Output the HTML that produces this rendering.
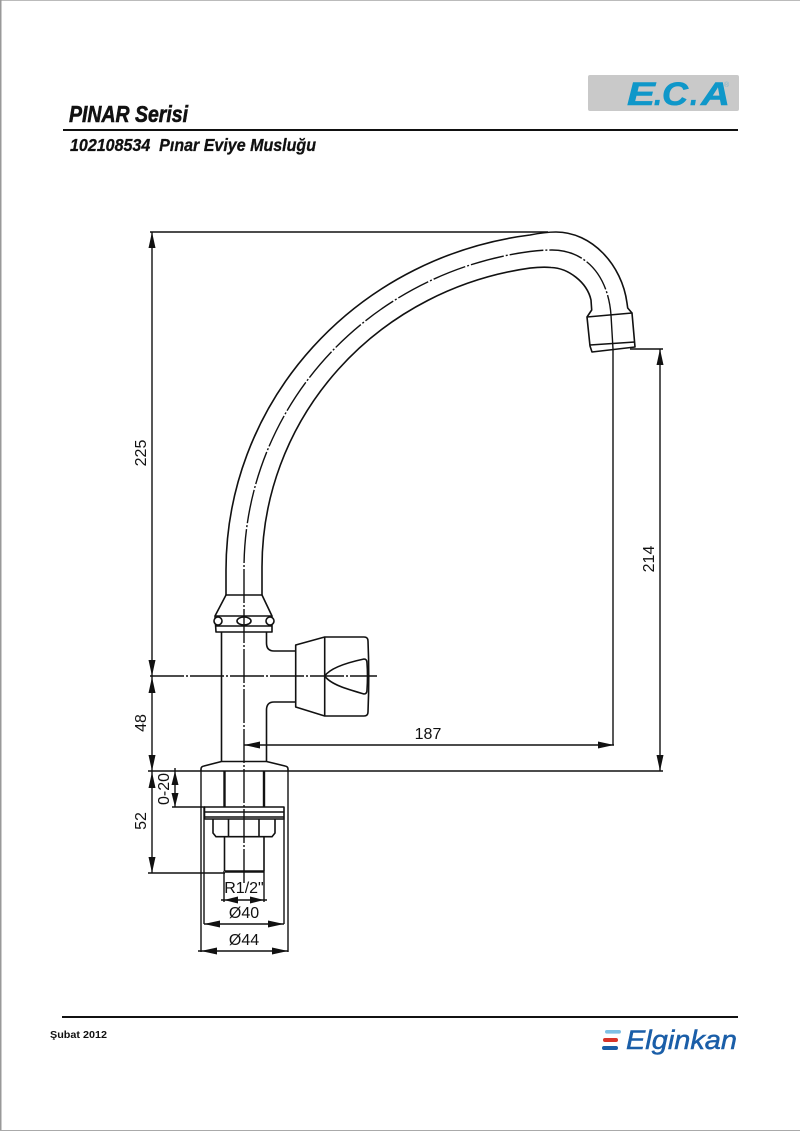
<!DOCTYPE html>
<html><head><meta charset="utf-8"><style>
html,body{margin:0;padding:0;background:#fff;width:800px;height:1131px;overflow:hidden}
svg{display:block}
text{font-family:"Liberation Sans",sans-serif;fill:#111}
.d{fill:none;stroke:#111;stroke-width:1.4}
.o{fill:none;stroke:#111;stroke-width:1.6;stroke-linejoin:round}
.t{fill:none;stroke:#111;stroke-width:2.4}
.c{fill:none;stroke:#111;stroke-width:1.4;stroke-dasharray:34 2 2 2}
.a{fill:#111;stroke:none}
.n{font-size:16px}
.e{font-size:32px;font-weight:bold;font-style:italic;fill:#0f97c9;stroke:#0f97c9;stroke-width:.6}
</style></head><body>
<svg width="800" height="1131" viewBox="0 0 800 1131" xmlns="http://www.w3.org/2000/svg">
<rect x="0" y="0" width="800" height="1131" fill="#fff"/>
<rect x="0" y="0" width="800" height="1" fill="#bbb"/>
<rect x="0" y="0" width="1.5" height="1131" fill="#999"/>
<rect x="0" y="1130" width="800" height="1" fill="#aaa"/>

<rect x="588" y="75" width="151" height="36" rx="2" fill="#c9c9c9"/>
<text class="e" x="627" y="105" textLength="28" lengthAdjust="spacingAndGlyphs">E</text>
<text class="e" x="654" y="105" textLength="8" lengthAdjust="spacingAndGlyphs">.</text>
<text class="e" x="662" y="105" textLength="26" lengthAdjust="spacingAndGlyphs">C</text>
<text class="e" x="690" y="105" textLength="8" lengthAdjust="spacingAndGlyphs">.</text>
<text class="e" x="701" y="105" textLength="29" lengthAdjust="spacingAndGlyphs">A</text>
<text x="724" y="87" font-size="7" style="fill:#7fb6cc">®</text>

<text x="69" y="122" font-size="23.5" font-weight="bold" font-style="italic" textLength="119" lengthAdjust="spacingAndGlyphs" style="stroke:#111;stroke-width:.6">PINAR Serisi</text>
<rect x="63" y="129" width="675" height="2" fill="#111"/>
<text x="70" y="151" font-size="17.5" font-weight="bold" font-style="italic" textLength="246" lengthAdjust="spacingAndGlyphs" xml:space="preserve" style="stroke:#111;stroke-width:.3">102108534  Pınar Eviye Musluğu</text>

<!-- spout -->
<path class="o" d="M226 595 L226 570 A349 338 0 0 1 530 235 C540 233 548 232 556 232 C592 232 622 265 627 303 L627.7 308 L632 313"/>
<path class="o" d="M262 595 L262 567 A313 302 0 0 1 530 268.1 C538 267.2 545 267 551 267.5 C568 268 587 282 591 300 L591.7 310 L587 317"/>
<path class="c" d="M244 883 V569 A331 320 0 0 1 530 251.5 C538 250.5 545 250 552 250 C585 250 608 275 611 315"/>
<path class="d" d="M611 315 L613 349 L613 745"/>
<!-- nozzle -->
<path class="o" d="M587 317 L632 313 L635 347 L592 352 L590 346 Z"/>
<path class="o" d="M590 345 L635 342"/>
<!-- collar -->
<path class="o" d="M226 595 H262 L272 616 V632 H216 L215 616 Z"/>
<path class="o" d="M215 616 H272 M215 626 H272"/>
<circle class="o" cx="218" cy="621" r="4" style="fill:#fff"/>
<circle class="o" cx="270" cy="621" r="4" style="fill:#fff"/>
<ellipse class="o" cx="244" cy="621" rx="7" ry="4"/>
<!-- body -->
<path class="o" d="M221.5 632 V761.5"/>
<path class="o" d="M266.5 632 V643 Q266.5 651 274 651 H295.7"/>
<path class="o" d="M266.5 761.5 V710 Q266.5 702 274 702 H295.7"/>
<!-- handle -->
<path class="o" d="M295.7 645 L324.7 637 H364 Q368 637 368 641 Q369.5 676 368 712 Q368 716 364 716 H324.7 L295.7 707 Z"/>
<path class="o" d="M324.7 637 V716"/>
<path class="o" d="M324.7 676 C331 667 350 662 364 659 Q367 659 367 663 Q368 676 367 690 Q367 694 364 694 C350 690 331 685 324.7 676 Z"/>
<!-- base flange -->
<path class="o" d="M201 771 V769 Q201 766.5 204 766 L221.5 761.5 H266.5 L285 766 Q288 766.5 288 769 V771"/>
<path class="d" d="M201 771 V952 M288 771 V952"/>
<path class="t" d="M224.5 771 V807 M264 771 V807"/>
<!-- plate and nut -->
<path class="o" d="M204.5 807 H284 V819 H204.5 Z M204.5 812 H284 M204.5 817 H284"/>
<path class="d" d="M204 807 V924 M284 819 V924"/>
<path class="o" d="M213 819 V833 L216 836.7 H272 L275 833 V819 M228.5 819 V836.7 M259 819 V836.7"/>
<path class="o" d="M224.5 836.7 V871 M264 836.7 V871"/>
<path class="t" d="M225 871.5 H263.5"/>
<path class="d" d="M224 871 V902 M264 871 V902"/>

<!-- centre line -->
<path class="c" d="M150 676 H377"/>

<!-- dimension lines -->
<path class="d" d="M150 232 H548"/>
<path class="d" d="M152 232 V873"/>
<path class="d" d="M148 771 H663"/>
<path class="d" d="M148 873 H225"/>
<path class="d" d="M172 807 H205"/>
<path class="d" d="M175 768 V807"/>
<path class="d" d="M630 349 H663"/>
<path class="d" d="M660 349 V771"/>
<path class="d" d="M244 745 H614"/>
<path class="d" d="M221 900 H267"/>
<path class="d" d="M204 924 H284"/>
<path class="d" d="M198 951 H288"/>

<!-- arrowheads -->
<path class="a" d="M152 232 L148.5 248 H155.5 Z"/>
<path class="a" d="M152 676 L148.5 660 H155.5 Z"/>
<path class="a" d="M152 677 L148.5 693 H155.5 Z"/>
<path class="a" d="M152 771 L148.5 755 H155.5 Z"/>
<path class="a" d="M152 772 L148.5 788 H155.5 Z"/>
<path class="a" d="M152 873 L148.5 857 H155.5 Z"/>
<path class="a" d="M175 771 L171.5 785 H178.5 Z"/>
<path class="a" d="M175 807 L171.5 793 H178.5 Z"/>
<path class="a" d="M660 349 L656.5 365 H663.5 Z"/>
<path class="a" d="M660 771 L656.5 755 H663.5 Z"/>
<path class="a" d="M244 745 L260 741.5 V748.5 Z"/>
<path class="a" d="M614 745 L598 741.5 V748.5 Z"/>
<path class="a" d="M224 900 L238 896.5 V903.5 Z"/>
<path class="a" d="M264 900 L250 896.5 V903.5 Z"/>
<path class="a" d="M204 924 L220 920.5 V927.5 Z"/>
<path class="a" d="M284 924 L268 920.5 V927.5 Z"/>
<path class="a" d="M201 951 L217 947.5 V954.5 Z"/>
<path class="a" d="M288 951 L272 947.5 V954.5 Z"/>

<!-- labels -->
<text class="n" transform="translate(146,453) rotate(-90)" text-anchor="middle">225</text>
<text class="n" transform="translate(146,723) rotate(-90)" text-anchor="middle">48</text>
<text class="n" transform="translate(146,821) rotate(-90)" text-anchor="middle">52</text>
<text class="n" transform="translate(169,789) rotate(-90)" text-anchor="middle">0-20</text>
<text class="n" transform="translate(654,559) rotate(-90)" text-anchor="middle">214</text>
<text class="n" x="428" y="739" text-anchor="middle">187</text>
<text class="n" x="244" y="893" text-anchor="middle">R1/2"</text>
<text class="n" x="244" y="918" text-anchor="middle">Ø40</text>
<text class="n" x="244" y="945" text-anchor="middle">Ø44</text>

<!-- footer -->
<rect x="62" y="1016" width="676" height="2" fill="#111"/>
<text x="50" y="1038" font-size="10.5" font-weight="bold" textLength="57" lengthAdjust="spacingAndGlyphs">Şubat 2012</text>
<rect x="605" y="1030" width="16" height="3.6" rx="1.8" fill="#7fc0e4"/>
<rect x="603" y="1038" width="15" height="4" rx="2" fill="#d8352a"/>
<rect x="602" y="1046" width="16" height="4" rx="2" fill="#1a5ea8"/>
<text x="626" y="1049" font-size="27" font-style="italic" textLength="111" lengthAdjust="spacingAndGlyphs" style="fill:#1a5ea8;stroke:#1a5ea8;stroke-width:.5">Elginkan</text>
</svg>
</body></html>
